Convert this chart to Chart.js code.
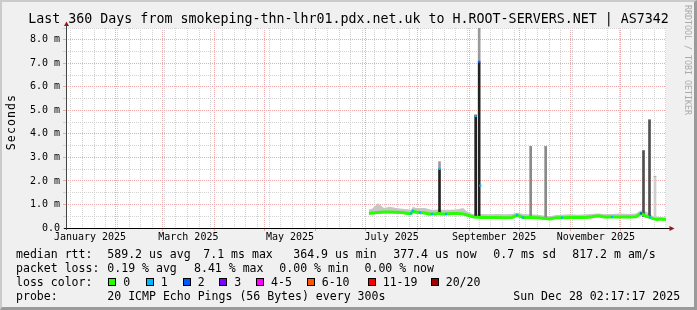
<!DOCTYPE html>
<html>
<head>
<meta charset="utf-8">
<script src="https://cdn.jsdelivr.net/npm/chart.js@4.4.1/dist/chart.umd.min.js"></script>
<style>
body{margin:0;width:697px;height:310px;overflow:hidden;font-family:'DejaVu Sans Mono',monospace;}
#frame{position:absolute;left:0;top:0;width:697px;height:310px;box-sizing:border-box;background:#f0f0f0;
  border-style:solid;border-width:2px 3px 3px 2px;border-color:#cbcbcb #9a9a9a #9a9a9a #cbcbcb;}
#chart{position:absolute;left:0;top:0;}
.t{position:absolute;white-space:pre;color:#000;}
.leg{font-size:11.55px;line-height:14px;}
.box{position:absolute;width:8px;height:8px;box-sizing:border-box;border:1px solid #000;}
#title{left:28.3px;top:11.4px;font-size:13.3px;line-height:16px;}
#unit{left:11px;top:122px;font-size:11.55px;line-height:14px;letter-spacing:1.1px;transform:translate(-50%,-50%) rotate(-90deg);}
#mark{left:682.5px;top:5px;font-size:8.3px;line-height:10px;color:#aaa;writing-mode:vertical-rl;}
</style>
</head>
<body>
<div id="frame"></div>
<canvas id="chart" width="697" height="310"></canvas>
<div id="texts"></div>
<script>
// ---- data (days since start of graph, milliseconds) ----
var days = [181.8,183.6,187.2,190.8,194.4,198.0,201.6,205.2,207.0,208.2,
	210.0,212.4,215.4,217.8,219.6,222.0,223.2,225.6,228.0,231.6,
	235.2,238.2,240.6,243.0,244.8,247.2,249.6,254.4,259.2,263.4,
	267.6,270.6,274.2,278.4,283.2,287.4,290.4,294.0,297.6,302.4,
	307.2,312.0,315.6,319.2,322.8,327.6,332.4,337.2,342.0,345.0,
	348.0,350.4,352.2,354.6,357.0,360.0];
var median = [0.62,0.64,0.66,0.68,0.68,0.67,0.66,0.62,0.62,0.72,
	0.68,0.66,0.64,0.6,0.6,0.6,0.63,0.6,0.6,0.62,
	0.62,0.6,0.55,0.5,0.47,0.46,0.45,0.45,0.45,0.44,
	0.45,0.55,0.45,0.45,0.44,0.4,0.38,0.44,0.44,0.45,
	0.45,0.45,0.48,0.52,0.47,0.47,0.47,0.47,0.48,0.62,
	0.5,0.45,0.4,0.36,0.38,0.36];
var smokeHi = [0.8,0.82,1.05,0.85,0.9,0.85,0.82,0.8,0.78,0.9,
	0.85,0.85,0.85,0.8,0.78,0.78,0.8,0.78,0.78,0.78,
	0.8,0.85,0.7,0.62,0.58,0.58,0.6,0.58,0.6,0.58,
	0.6,0.65,0.6,0.58,0.56,0.52,0.5,0.55,0.56,0.58,
	0.56,0.58,0.6,0.62,0.6,0.6,0.62,0.6,0.62,0.75,
	0.7,0.6,0.5,0.48,0.46,0.45];
var smokeLo = [0.56,0.58,0.6,0.62,0.62,0.61,0.6,0.56,0.56,0.64,
	0.6,0.6,0.58,0.54,0.54,0.54,0.56,0.54,0.54,0.56,
	0.56,0.54,0.5,0.45,0.42,0.41,0.4,0.4,0.4,0.39,
	0.4,0.48,0.4,0.4,0.39,0.36,0.34,0.39,0.39,0.4,
	0.4,0.4,0.43,0.46,0.42,0.42,0.42,0.42,0.43,0.55,
	0.45,0.4,0.36,0.32,0.34,0.32];
var loss = [0,0,0,0,0,0,0,0,1,1,
	0,1,0,0,1,0,0,0,1,0,
	0,0,0,0,0,0,0,0,0,0,
	0,1,1,0,0,0,0,0,1,0,
	0,0,0,0,0,1,0,0,0,2,
	0,1,0,0,0,0];

var spikeDays = [224.1,245.8,247.9,278.8,287.8,346.5,350.1,353.4];
var spikeLow  = [0.62,0.47,0.46,0.45,0.42,0.48,0.48,0.42];
var spikeHigh = [2.51,4.8,7.06,3.47,3.47,3.3,4.6,2.2];
var spikeTop  = [2.82,4.8,8.5,3.47,3.47,3.3,4.6,2.2];

var spikeMedDays = [224.1,245.8,247.9,248.6];
var spikeMed     = [2.51,4.76,7.06,1.8];
var spikeMedLoss = [1,1,2,1];

var monthLabels = ['January 2025','March 2025','May 2025','July 2025','September 2025','November 2025'];
var labelMonths = [0,2,4,6,8,10];

var lossLabels = ['0','1','2','3','4-5','6-10','11-19','20/20'];
var statLines = [
	['median rtt:','589.2 us avg','7.1 ms max','364.9 us min','377.4 us now','0.7 ms sd','817.2 m am/s'],
	['packet loss:','0.19 % avg','8.41 % max','0.00 % min','0.00 % now'],
	['probe:','20 ICMP Echo Pings (56 Bytes) every 300s','Sun Dec 28 02:17:17 2025']
];
var titleText = 'Last 360 Days from smokeping-thn-lhr01.pdx.net.uk to H.ROOT-SERVERS.NET | AS7342';

// ---- styles / layout ----
var lossColors = ['#26ff00','#00b8ff','#0059ff','#7e00ff','#ff00ff','#ff5500','#ff0000','#a10000'];
var spikeShades = ['#222','#222','#222','#8a8a8a','#8a8a8a','#505050','#505050','#cfcfcf'];
var majorGrid = '#eeaaaa';
var minorGrid = '#d2d2d2';
var statX = [[16,107.3,203.3,293.3,393.3,493.3,572.3],[16,107.3,194,279.3,364.5],[16,107.3,513.3]];
var statTop = [246.5,260.5,288.5];
var lossKeyX = [108.3,145.7,182.7,219.3,256,306.7,367.7,430.7];

// ---- text ----
(function () {
	var html = '';
	html += '<div class="t" id="title">' + titleText + '</div>';
	html += '<div class="t" id="unit">Seconds</div>';
	html += '<div class="t" id="mark">RRDTOOL / TOBI OETIKER</div>';
	for (var li in statLines) {
		for (var pi in statLines[li]) {
			html += '<div class="t leg" style="left:' + statX[li][pi] + 'px;top:' + statTop[li] + 'px;">' + statLines[li][pi] + '</div>';
		}
	}
	html += '<div class="t leg" style="left:16px;top:274.5px;">loss color:</div>';
	for (var k in lossLabels) {
		html += '<div class="box" style="left:' + lossKeyX[k] + 'px;top:278px;background:' + lossColors[k] + ';"></div>';
		html += '<div class="t leg" style="left:' + (lossKeyX[k] + 15) + 'px;top:274.5px;">' + lossLabels[k] + '</div>';
	}
	document.getElementById('texts').innerHTML = html;
})();

// ---- x axis ticks (months / weeks) ----
var t0 = Date.UTC(2025, 0, 2, 2, 17, 17);
function dayOf(m, d) { return (Date.UTC(2025, m, d) - t0) / 86400000; }

var tickKind = {};
for (var w = dayOf(0, 5); w <= 360; w += 7) { tickKind[w.toFixed(4)] = 'week'; }
for (var m = 1; m < 12; m++) { tickKind[dayOf(m, 1).toFixed(4)] = 'month'; }
var labelAt = {};
for (var i in labelMonths) {
	var mid = (dayOf(labelMonths[i], 1) + dayOf(labelMonths[i] + 1, 1)) / 2;
	tickKind[mid.toFixed(4)] = 'label';
	labelAt[mid.toFixed(4)] = monthLabels[i];
}
var xTickVals = Object.keys(tickKind).map(Number).sort(function (a, b) { return a - b; });
function kindOf(v) { return tickKind[v.toFixed(4)]; }

var framePlugin = {
	id: 'framePlugin',
	beforeDraw: function (chart) {
		var ctx = chart.ctx, a = chart.chartArea;
		ctx.save();
		ctx.fillStyle = '#fff';
		ctx.fillRect(a.left, a.top, a.right - a.left, a.bottom - a.top);
		ctx.restore();
	},
	afterDraw: function (chart) {
		var ctx = chart.ctx, a = chart.chartArea;
		ctx.save();
		ctx.lineWidth = 1;
		ctx.strokeStyle = '#000';
		ctx.beginPath();
		ctx.moveTo(a.left - 2, a.bottom + 0.5);
		ctx.lineTo(a.right + 4, a.bottom + 0.5);
		ctx.stroke();
		ctx.strokeStyle = '#444';
		ctx.beginPath();
		ctx.moveTo(a.left + 0.5, a.bottom + 2);
		ctx.lineTo(a.left + 0.5, a.top - 4);
		ctx.stroke();
		ctx.fillStyle = '#8b1a1a';
		ctx.beginPath();
		ctx.moveTo(a.left + 0.5, a.top - 6.5);
		ctx.lineTo(a.left + 3, a.top - 2);
		ctx.lineTo(a.left - 2, a.top - 2);
		ctx.closePath();
		ctx.fill();
		ctx.beginPath();
		ctx.moveTo(a.right + 8.5, a.bottom + 0.5);
		ctx.lineTo(a.right + 3.5, a.bottom - 2);
		ctx.lineTo(a.right + 3.5, a.bottom + 3);
		ctx.closePath();
		ctx.fill();
		ctx.restore();
	}
};

var tickFont = { family: 'DejaVu Sans Mono', size: 10 };

new Chart(document.getElementById('chart'), {
	type: 'line',
	data: {
		datasets: [
			{
				type: 'line', label: 'loss marks',
				data: spikeMedDays.map(function (d, i) { return { x: d, y: spikeMed[i] }; }),
				showLine: false, pointStyle: 'rect', pointRadius: 1.5, pointBorderWidth: 0,
				pointBackgroundColor: function (c) { return lossColors[spikeMedLoss[c.dataIndex]]; },
				order: -1
			},
			{
				type: 'line', label: 'median rtt',
				data: days.map(function (d, i) { return { x: d, y: median[i] }; }),
				borderColor: lossColors[0], borderWidth: 3, fill: false,
				pointStyle: 'rect', pointBorderWidth: 0,
				pointRadius: function (c) { return loss[c.dataIndex] > 0 ? 1.6 : 0; },
				pointBackgroundColor: function (c) { return lossColors[loss[c.dataIndex]]; },
				order: 0
			},
			{
				type: 'bar', label: 'smoke tips',
				data: spikeDays.map(function (d, i) { return { x: d, y: [spikeHigh[i], spikeTop[i]] }; }),
				backgroundColor: '#9a9a9a', barThickness: 2, grouped: false, order: 1
			},
			{
				type: 'bar', label: 'spikes',
				data: spikeDays.map(function (d, i) { return { x: d, y: [spikeLow[i], spikeHigh[i]] }; }),
				backgroundColor: function (c) { return spikeShades[c.dataIndex]; },
				barThickness: 2, grouped: false, order: 2
			},
			{
				type: 'line', label: 'smoke',
				data: days.map(function (d, i) { return { x: d, y: smokeHi[i] }; }),
				borderWidth: 0, pointRadius: 0, fill: '+1', backgroundColor: '#c6c6c6', order: 3
			},
			{
				type: 'line', label: 'smoke low',
				data: days.map(function (d, i) { return { x: d, y: smokeLo[i] }; }),
				borderWidth: 0, pointRadius: 0, fill: false, order: 4
			}
		]
	},
	options: {
		responsive: false,
		animation: false,
		layout: { padding: { top: 28, right: 31, bottom: 62, left: 0 } },
		plugins: { legend: { display: false }, tooltip: { enabled: false } },
		scales: {
			x: {
				type: 'linear', min: 0, max: 360, offset: false,
				afterBuildTicks: function (scale) {
					scale.ticks = xTickVals.map(function (v) { return { value: v }; });
				},
				afterFit: function (scale) { scale.height = 20; },
				ticks: {
					autoSkip: false, maxRotation: 0, padding: 0, color: '#000', font: tickFont,
					callback: function (v) { return labelAt[v.toFixed(4)] || ''; }
				},
				grid: {
					offset: false, tickLength: 3,
					color: function (c) {
						var k = kindOf(c.tick.value);
						return k === 'month' ? majorGrid : (k === 'week' ? minorGrid : 'rgba(0,0,0,0)');
					},
					tickColor: function (c) { return kindOf(c.tick.value) === 'month' ? majorGrid : 'rgba(0,0,0,0)'; }
				},
				border: { display: false, dash: [1, 1] }
			},
			y: {
				type: 'linear', min: 0, max: 8.5,
				afterFit: function (scale) { scale.width = 66; },
				ticks: {
					stepSize: 0.5, autoSkip: false, padding: 3, color: '#000', font: tickFont,
					callback: function (v) {
						if (v % 1 !== 0) return '';
						return v === 0 ? '0.0' : v.toFixed(1) + ' m';
					}
				},
				grid: {
					tickLength: 3,
					color: function (c) { return c.tick.value % 1 === 0 ? majorGrid : minorGrid; },
					tickColor: function (c) { return c.tick.value % 1 === 0 ? majorGrid : minorGrid; }
				},
				border: { display: false, dash: [1, 1] }
			}
		}
	},
	plugins: [framePlugin]
});
</script>
</body>
</html>
